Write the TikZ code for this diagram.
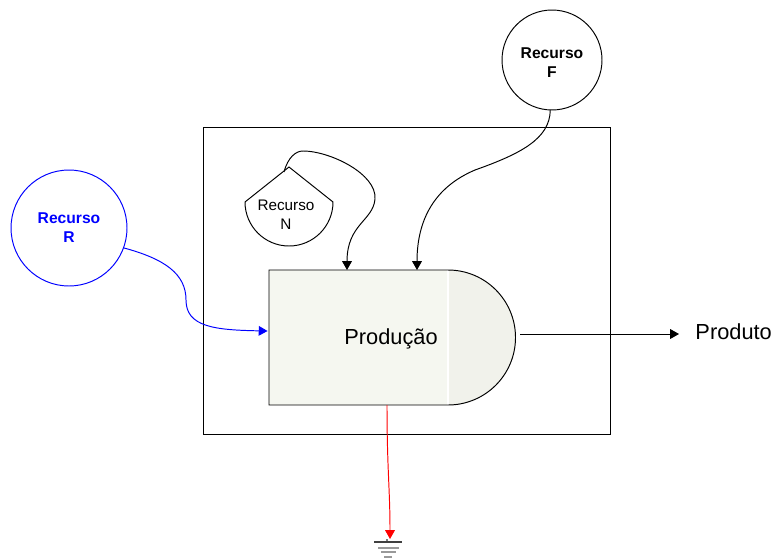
\documentclass[tikz,border=0pt]{standalone}
\usepackage{fontspec}
\setmainfont{Liberation Sans}
\usepackage{tikz}
\usetikzlibrary{arrows.meta,positioning,calc,shapes}
\definecolor{prodfill}{HTML}{F5F7F0}
\definecolor{prodcap}{HTML}{F1F2EB}
\definecolor{resblue}{HTML}{0000FF}

\begin{document}
\begin{tikzpicture}[x=0.02cm,y=0.02cm,line width=0.55pt,
	resource/.style={circle,draw,inner sep=0pt,align=center,font=\fontsize{8.9}{10.8}\selectfont\bfseries},
	flow/.style={-{Triangle[length=5pt,width=5.5pt]}},
	bigtext/.style={font=\fontsize{12.4}{15}\selectfont},
	earth/.style={gray!80,line width=0.9pt}]
\useasboundingbox (0,0) rectangle (773,559);

		% Boundary
		\draw (203.5,125) rectangle (610,432);

		% Production shape
		\fill[prodfill] (269,154) rectangle (448,289);
		\fill[prodcap] (448,154) arc (-90:90:67.5) -- cycle;
		\draw[white,line width=0.8pt] (448,154) -- (448,289);
		\draw (448,154) -- (269,154) -- (269,289) -- (448,289) arc (90:-90:67.5);
		\node[bigtext,minimum width=4.92cm,minimum height=2.7cm,inner sep=0pt] (prod) at (391,220.5) {Produção};

		% Resources
		\node[resource,minimum size=2cm] (recF) at (552,499) {};
		\node[font=\fontsize{8.9}{10.8}\selectfont\bfseries,align=center] (recFtext) at (552,496) {Recurso\\F};
		\node[resource,minimum size=2.32cm,draw=resblue,text=resblue] (recR) at (69,331) {Recurso\\R};
		\draw (289,392) -- (245,357) arc (180:360:44) -- cycle;
		\node[align=center,font=\fontsize{8.7}{10.8}\selectfont] (recN) at (286,344) {Recurso\\N};

		% Free ends
		\coordinate (topN) at (347,289);
		\coordinate (topF) at (417,289);
		\coordinate (apexN) at (284,387);
		\coordinate (outP) at (520,225);
		\coordinate (botP) at (387,154);
		\coordinate (gnd) at (390,20);

		% Flows in
		\draw[flow,resblue] (recR) ++(-20:58) .. controls (165,300) and (186,285) .. (186,259)
			.. controls (186,232) and (215,229) .. (prod.west |- 0,228);
		\draw[flow] (recF) ++(-92:50) .. controls (550,420) and (520,405) .. (475,389)
			.. controls (435,372) and (417,340) .. (topF);
		\draw[flow] (apexN) .. controls (288,402) and (296,408) .. (303,408)
			.. controls (330,408) and (377,385) .. (375,360)
			.. controls (373,338) and (347,335) .. (topN);

		% Flows out
		\draw[flow] (outP) -- (679,225);
		\node[bigtext,anchor=west,inner sep=0pt] (produto) at (695,227) {Produto};
		\draw[flow,red] (botP) .. controls (387,90) and (390,70) .. (gnd);

		% Ground
		\draw[gray,line width=0.6pt] (387,20) -- (387,17);
		\draw[black!75,line width=0.6pt] (374,17) -- (402,17);
		\draw[earth] (378,11) -- (399,11);
		\draw[earth] (381,7) -- (396,7);
		\draw[earth] (384,2) -- (392,2);
\end{tikzpicture}
\end{document}
